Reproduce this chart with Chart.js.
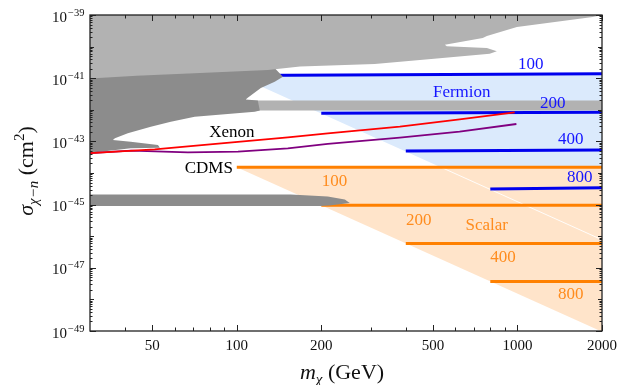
<!DOCTYPE html>
<html>
<head>
<meta charset="utf-8">
<script src="https://cdn.jsdelivr.net/npm/chart.js@4.4.1/dist/chart.umd.min.js"></script>
<style>
  html, body { margin: 0; padding: 0; background: #fff; }
</style>
</head>
<body>
<canvas id="c" width="627" height="385"></canvas>
<script>
// mediator masses (GeV) of the benchmark lines
const mediators = [100, 200, 400, 800];
const mEnd = 2000;
// fermion DM lines: sigma at start (m = mediator) and at m = 2000
const fermionStart = [1.22e-41, 7.74e-43, 4.97e-44, 3.12e-45];
const fermionEnd = [1.39e-41, 8.34e-43, 5.35e-44, 3.43e-45];
// scalar DM lines (flat)
const scalarSigma = [1.51e-44, 9.5e-46, 5.9e-47, 3.7e-48];
// lower-left edges (m = M) of the shaded regions
const fermionEdge = [[100, 1.22e-41], [2000, 7.7e-47]];
const scalarEdge = [[100, 1.51e-44], [2000, 9.5e-50]];
const seam = [[535, 1.51e-44], [2000, 7.7e-47]];

// direct detection limits
const xenonM = [30, 51, 88, 152, 211, 381, 622, 977];
const xenonS = [4.24e-44, 5.62e-44, 8.7e-44, 1.35e-43, 1.8e-43, 2.92e-43, 5.0e-43, 8.3e-43];
const cdmsM = [30, 42, 67, 101, 152, 211, 381, 622, 991];
const cdmsS = [4.24e-44, 5.08e-44, 4.5e-44, 4.72e-44, 6.05e-44, 8.3e-44, 1.31e-43, 2.03e-43, 3.55e-43];

// excluded regions (gray)
const upperM = [29, 2100, 2100, 2000, 1853, 995, 778, 752, 551, 560, 778, 844, 796, 516, 310, 168, 129, 74, 44, 30, 29];
const upperS = [1.3e-39, 1.3e-39, 1e-39, 1e-39, 8.65e-40, 4.17e-40, 2.16e-40, 1.87e-40, 1.15e-40, 1.02e-40, 9.0e-41, 7.1e-41, 5.96e-41, 4.2e-41, 2.8e-41, 2.33e-41, 1.82e-41, 1.46e-41, 1.2e-41, 9.8e-42, 9.7e-42];
const leftM = [29, 134, 146, 136.5, 121.8, 109.4, 107.6, 118.8, 120.8, 115.9, 70.8, 58.2, 49.4, 40.9, 36.8, 36.2, 41.9, 52.4, 53.2, 41.9, 32.7, 29];
const leftS = [2.5e-41, 2.5e-41, 1.11e-41, 7.75e-42, 4.9e-42, 2.42e-42, 2.12e-42, 1.97e-42, 9.5e-43, 8.7e-43, 6.05e-43, 4.2e-43, 2.92e-43, 1.8e-43, 1.25e-43, 1.1e-43, 9.8e-44, 7.7e-44, 6.3e-44, 6.05e-44, 4.7e-44, 4.2e-44];
const bandM = [112, 2100, 2100, 112];
const bandS = [1.97e-42, 1.97e-42, 9.5e-43, 9.5e-43];
const lowM = [29, 155.7, 210.9, 242.6, 252.7, 214.2, 199, 29];
const lowS = [2.09e-45, 2.09e-45, 1.8e-45, 1.45e-45, 1.12e-45, 9.3e-46, 9.0e-46, 9.0e-46];

// axis ticks
const xMajor = [50, 100, 200, 500, 1000, 2000];
const xMinor = [40, 60, 70, 80, 90, 300, 400, 600, 700, 800, 900];
const yExp = [-49, -48, -47, -46, -45, -44, -43, -42, -41, -40, -39];
const yLabelExp = [-49, -47, -45, -43, -41, -39];

const BLUE = 'rgb(0,0,238)';
const ORANGE = 'rgb(255,128,0)';
const SERIF = '"Liberation Serif", "Times New Roman", serif';

// text in the plot
const notes = [
  { t: 'Xenon', m: 96, s: 2.13e-43, c: '#000' },
  { t: 'CDMS', m: 79.5, s: 1.55e-44, c: '#000' },
  { t: 'Fermion', m: 633, s: 3.8e-42, c: 'rgb(20,20,255)' },
  { t: '100', m: 1115, s: 2.92e-41, c: 'rgb(20,20,255)' },
  { t: '200', m: 1336, s: 1.83e-42, c: 'rgb(20,20,255)' },
  { t: '400', m: 1549, s: 1.24e-43, c: 'rgb(20,20,255)' },
  { t: '800', m: 1667, s: 8.0e-45, c: 'rgb(20,20,255)' },
  { t: 'Scalar', m: 777, s: 2.43e-46, c: 'rgb(255,140,30)' },
  { t: '100', m: 223, s: 5.8e-45, c: 'rgb(255,140,30)' },
  { t: '200', m: 445, s: 3.5e-46, c: 'rgb(255,140,30)' },
  { t: '400', m: 887, s: 2.36e-47, c: 'rgb(255,140,30)' },
  { t: '800', m: 1549, s: 1.6e-48, c: 'rgb(255,140,30)' },
];

const pts = (ms, ss) => ms.map((m, i) => ({ x: m, y: ss[i] }));
const pairs = arr => arr.map(p => ({ x: p[0], y: p[1] }));

function area(data, color) {
  return { data, fill: 'shape', backgroundColor: color, borderWidth: 0, borderColor: 'rgba(0,0,0,0)', pointRadius: 0, tension: 0 };
}
function line(data, color, w) {
  return { data, fill: false, borderColor: color, borderWidth: w, pointRadius: 0, tension: 0, borderCapStyle: 'butt' };
}

// bottom layer first
const datasets = [
  area([...pairs(fermionEdge), { x: mEnd, y: fermionEnd[0] }], 'rgb(219,234,252)'),
  area([...pairs(scalarEdge), { x: mEnd, y: scalarSigma[0] }], 'rgb(255,228,202)'),
  line(pairs(seam), 'rgba(255,255,255,0.9)', 1),
  ...mediators.map((M, i) => line([{ x: M, y: fermionStart[i] }, { x: mEnd, y: fermionEnd[i] }], BLUE, 3)),
  ...mediators.map((M, i) => line([{ x: M, y: scalarSigma[i] }, { x: mEnd, y: scalarSigma[i] }], ORANGE, 3)),
  area(pts(bandM, bandS), 'rgb(178,178,178)'),
  area(pts(leftM, leftS), 'rgb(140,140,140)'),
  area(pts(upperM, upperS), 'rgb(178,178,178)'),
  area(pts(lowM, lowS), 'rgb(140,140,140)'),
  line(pts(cdmsM, cdmsS), 'rgb(128,0,128)', 1.8),
  line(pts(xenonM, xenonS), 'rgb(255,0,0)', 1.8),
];
datasets.forEach((d, i) => { d.order = datasets.length - i; });

function drawParts(ctx, parts, x0, y0) {
  let w = 0;
  parts.forEach(p => { ctx.font = p.f; w += ctx.measureText(p.t).width; });
  let x = x0 - w / 2;
  parts.forEach(p => {
    ctx.font = p.f;
    ctx.fillText(p.t, x, y0 + (p.dy || 0));
    x += ctx.measureText(p.t).width;
  });
}

const overlay = {
  id: 'overlay',
  afterDraw(chart) {
    const ctx = chart.ctx, a = chart.chartArea;
    const xs = chart.scales.x, ys = chart.scales.y;
    ctx.save();

    // labels inside the plot
    ctx.textAlign = 'center';
    ctx.textBaseline = 'alphabetic';
    ctx.font = '17px ' + SERIF;
    notes.forEach(n => {
      ctx.fillStyle = n.c;
      ctx.fillText(n.t, xs.getPixelForValue(n.m), ys.getPixelForValue(n.s) + 6);
    });

    // frame
    ctx.strokeStyle = '#222';
    ctx.lineWidth = 1.3;
    ctx.strokeRect(a.left, a.top, a.right - a.left, a.bottom - a.top);

    // ticks (inward, on all four sides)
    ctx.lineWidth = 1;
    ctx.beginPath();
    const xt = (v, len) => {
      const px = Math.round(xs.getPixelForValue(v)) + 0.5;
      ctx.moveTo(px, a.bottom); ctx.lineTo(px, a.bottom - len);
      ctx.moveTo(px, a.top); ctx.lineTo(px, a.top + len);
    };
    const yt = (v, len) => {
      const py = Math.round(ys.getPixelForValue(v)) + 0.5;
      ctx.moveTo(a.left, py); ctx.lineTo(a.left + len, py);
      ctx.moveTo(a.right, py); ctx.lineTo(a.right - len, py);
    };
    xMajor.forEach(v => xt(v, 6));
    xMinor.forEach(v => xt(v, 3.5));
    yExp.forEach(e => {
      yt(Math.pow(10, e), yLabelExp.includes(e) ? 6 : 4);
      if (e < -39) for (let k = 2; k <= 9; k++) yt(k * Math.pow(10, e), 2.5);
    });
    ctx.stroke();

    // tick labels
    ctx.fillStyle = '#111';
    ctx.font = '15px ' + SERIF;
    ctx.textAlign = 'center';
    xMajor.forEach(v => ctx.fillText(String(v), xs.getPixelForValue(v), a.bottom + 19));
    yLabelExp.forEach(e => {
      const py = ys.getPixelForValue(Math.pow(10, e));
      ctx.font = '15px ' + SERIF;
      ctx.textAlign = 'right';
      ctx.fillText('10', a.left - 23, py + 6.5);
      ctx.font = '10.5px ' + SERIF;
      ctx.textAlign = 'left';
      ctx.fillText('\u2212' + String(-e), a.left - 22, py + 0.5);
    });

    // axis titles
    ctx.textAlign = 'left';
    drawParts(ctx, [
      { t: 'm', f: 'italic 22px ' + SERIF },
      { t: '\u03c7', f: 'italic 15px ' + SERIF, dy: 5 },
      { t: ' (GeV)', f: '22px ' + SERIF },
    ], 342, 379);
    ctx.translate(33, 171);
    ctx.rotate(-Math.PI / 2);
    drawParts(ctx, [
      { t: '\u03c3', f: 'italic 22px ' + SERIF },
      { t: '\u03c7\u2212n', f: 'italic 15px ' + SERIF, dy: 5 },
      { t: ' (cm', f: '22px ' + SERIF },
      { t: '2', f: '15px ' + SERIF, dy: -9 },
      { t: ')', f: '22px ' + SERIF },
    ], 0, 0);
    ctx.restore();
  }
};

new Chart(document.getElementById('c'), {
  type: 'line',
  data: { datasets },
  options: {
    responsive: false,
    devicePixelRatio: 1,
    animation: false,
    layout: { padding: { left: 90, right: 25, top: 15, bottom: 54 } },
    plugins: { legend: { display: false }, tooltip: { enabled: false } },
    scales: {
      x: { type: 'logarithmic', min: 30, max: 2000, display: false },
      y: { type: 'logarithmic', min: 1e-49, max: 1e-39, display: false },
    },
  },
  plugins: [overlay],
});
</script>
</body>
</html>
